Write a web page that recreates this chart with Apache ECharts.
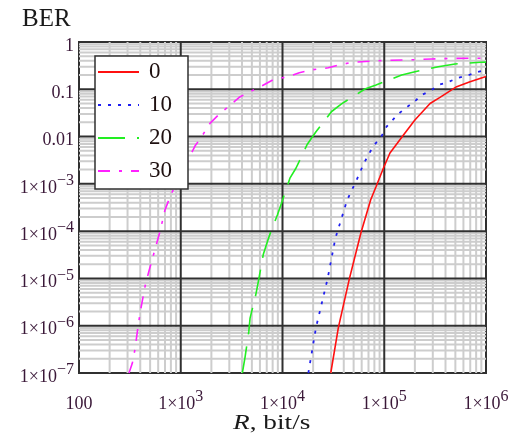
<!DOCTYPE html>
<html>
<head>
<meta charset="utf-8">
<script src="https://cdn.jsdelivr.net/npm/echarts@6/dist/echarts.min.js"></script>
<style>html,body{margin:0;padding:0;background:#fff}#c{width:524px;height:444px}</style>
</head>
<body>
<div id="c"></div>
<script>
// ---- data ----
const seriesNames = ['0', '10', '20', '30'];
const r0 = [29800, 35400, 45400, 59200, 73600, 83000, 98000, 113800, 153800, 200000, 282000, 353000, 515000, 697000, 1000000];
const ber0 = [1e-7, 9.1e-7, 9.8e-6, 9.5e-5, 4.6e-4, 8.7e-4, 2.14e-3, 4.5e-3, 0.0107, 0.0224, 0.050, 0.0676, 0.1135, 0.145, 0.187];
const r10 = [17950, 21330, 27730, 33110, 38020, 43250, 52720, 63100, 78000, 92300, 105400, 137400, 163700, 195900, 233300, 285100, 353200, 426600, 524800, 696600, 809000, 1000000];
const ber10 = [1e-7, 9.1e-7, 9.8e-6, 7.1e-5, 1.86e-4, 4.6e-4, 1.12e-3, 2.72e-3, 6.3e-3, 9.5e-3, 0.0162, 0.0302, 0.0407, 0.0537, 0.0759, 0.0933, 0.127, 0.1426, 0.173, 0.204, 0.229, 0.26];
const r20 = [4030, 4290, 4660, 4800, 5460, 5830, 6470, 7100, 7830, 8910, 9770, 11830, 13550, 17540, 21330, 30400, 38020, 64600, 83000, 148300, 200400, 339600, 495500, 887000, 1000000];
const ber20 = [1e-7, 2.2e-7, 7.4e-7, 1.45e-6, 4.5e-6, 9.3e-6, 3.2e-5, 6.0e-5, 1.1e-4, 2.2e-4, 3.9e-4, 1.32e-3, 2.14e-3, 6.9e-3, 0.0126, 0.0339, 0.049, 0.1014, 0.123, 0.2, 0.235, 0.30, 0.343, 0.372, 0.375];
const r30 = [310, 334, 355, 383, 404, 452, 488, 568, 625, 700, 802, 1380, 1607, 1936, 2432, 2931, 3758, 4786, 6237, 8241, 11400, 14620, 20090, 28180, 36140, 47860, 78160, 118300, 185800, 292400, 459200, 722800, 1000000];
const ber30 = [1e-7, 1.6e-7, 3.2e-7, 1.07e-6, 2.2e-6, 7.9e-6, 1.45e-5, 4.7e-5, 9.8e-5, 2.8e-4, 6.0e-4, 6.3e-3, 0.01, 0.019, 0.031, 0.0427, 0.0676, 0.089, 0.1175, 0.1626, 0.185, 0.224, 0.26, 0.285, 0.328, 0.37, 0.396, 0.412, 0.42, 0.438, 0.45, 0.452, 0.455];
const xTicks = [100, 1e3, 1e4, 1e5, 1e6];
const yTicks = [1e-7, 1e-6, 1e-5, 1e-4, 1e-3, 0.01, 0.1, 1];

const pairs = (xs, ys) => xs.map((x, i) => [x, ys[i]]);
const X0 = xTicks[0], X1 = xTicks[xTicks.length - 1];
const Y0 = yTicks[0], Y1 = yTicks[yTicks.length - 1];

// grid lines: [x, y, direction(0 = vertical, 1 = horizontal), major(0/1)]
const gridLines = [];
for (let i = 0; i < xTicks.length - 1; i++) for (let m = 2; m <= 9; m++) gridLines.push([xTicks[i] * m, Y0, 0, 0]);
for (let i = 0; i < yTicks.length - 1; i++) for (let m = 2; m <= 9; m++) gridLines.push([X0, yTicks[i] * m, 1, 0]);
xTicks.slice(1, -1).forEach(v => gridLines.push([v, Y0, 0, 1]));
yTicks.slice(1, -1).forEach(v => gridLines.push([X0, v, 1, 1]));

const FONT = 'Liberation Serif';
const LABEL_COLOR = '#3a1838';
const rich = {
  b: { fontSize: 18, lineHeight: 30, fontFamily: FONT, color: LABEL_COLOR },
  s: { fontSize: 16, lineHeight: 16, padding: [0, 0, 14, 0], fontFamily: FONT, color: LABEL_COLOR }
};

const chart = echarts.init(document.getElementById('c'), null, { renderer: 'canvas' });
chart.setOption({
  animation: false,
  backgroundColor: '#fff',
  grid: { left: 79, right: 38, top: 42, bottom: 71, show: true, borderColor: '#303030', borderWidth: 2, backgroundColor: 'transparent', outerBoundsMode: 'none' },
  xAxis: {
    type: 'log', logBase: 10, min: X0, max: X1, splitNumber: 4,
    axisLine: { show: false }, axisTick: { show: false }, splitLine: { show: false }, minorSplitLine: { show: false },
    axisLabel: {
      interval: 0, margin: 16, showMinLabel: true, showMaxLabel: true, rich: rich,
      formatter: v => { const e = Math.round(Math.log10(v)); return e === 2 ? '{b|100}' : '{b|1×10}{s|' + e + '}'; }
    }
  },
  yAxis: {
    type: 'log', logBase: 10, min: Y0, max: Y1, splitNumber: 7,
    axisLine: { show: false }, axisTick: { show: false }, splitLine: { show: false }, minorSplitLine: { show: false },
    axisLabel: {
      interval: 0, margin: 5, showMinLabel: true, showMaxLabel: true, rich: rich, padding: [8, 0, 0, 0],
      formatter: v => {
        const e = Math.round(Math.log10(v));
        if (e === 0) return '{b|1}';
        if (e === -1) return '{b|0.1}';
        if (e === -2) return '{b|0.01}';
        return '{b|1×10}{s|−' + (-e) + '}';
      }
    }
  },
  legend: {
    data: seriesNames, orient: 'vertical', left: 95, top: 56,
    padding: [4, 16, 6, 2], itemWidth: 41, itemHeight: 14, itemGap: 9,
    backgroundColor: '#fff', borderColor: '#303030', borderWidth: 1.5, borderRadius: 0,
    itemStyle: { opacity: 0, color: 'rgba(0,0,0,0)', borderWidth: 0 },
    textStyle: { fontFamily: FONT, fontSize: 23, lineHeight: 24, color: '#1e1010', padding: [0, 0, 0, 5] },
    selectedMode: false
  },
  graphic: [
    { type: 'text', x: 22, y: 7, style: { text: 'BER', fontFamily: FONT, fontSize: 25, fill: '#1a1a1a', verticalAlign: 'top' } },
    { type: 'text', x: 233, y: 413, scaleX: 1.3, style: { text: '{i|R}, bit/s', fontFamily: FONT, fontSize: 21, fill: '#1a1a1a', verticalAlign: 'top',
        rich: { i: { fontStyle: 'italic', fontFamily: FONT, fontSize: 21, fill: '#1a1a1a' } } } }
  ],
  series: [
    { name: 'grid', type: 'custom', data: gridLines, z: 1, silent: true, clip: false,
      renderItem: (params, api) => {
        const v = api.value(2) === 0 ? api.value(0) : api.value(1);
        const vertical = api.value(2) === 0;
        const p1 = vertical ? api.coord([v, Y0]) : api.coord([X0, v]);
        const p2 = vertical ? api.coord([v, Y1]) : api.coord([X1, v]);
        const major = api.value(3) === 1;
        return { type: 'line', shape: { x1: p1[0], y1: p1[1], x2: p2[0], y2: p2[1] },
          style: { stroke: major ? '#303030' : '#cdcdcd', lineWidth: 2 } };
      } },
    { name: '0', type: 'line', data: pairs(r0, ber0), symbol: 'none', z: 3,
      lineStyle: { color: '#ff1010', width: 1.6, type: 'solid' }, itemStyle: { color: '#ff1010' } },
    { name: '10', type: 'line', data: pairs(r10, ber10), symbol: 'none', z: 3,
      lineStyle: { color: '#2020f0', width: 1.8, type: [3, 7] }, itemStyle: { color: '#2020f0' } },
    { name: '20', type: 'line', data: pairs(r20, ber20), symbol: 'none', z: 3,
      lineStyle: { color: '#22ee22', width: 1.6, type: [27, 12] }, itemStyle: { color: '#22ee22' } },
    { name: '30', type: 'line', data: pairs(r30, ber30), symbol: 'none', z: 3,
      lineStyle: { color: '#ff20ff', width: 1.6, type: [12, 9, 3, 9] }, itemStyle: { color: '#ff20ff' } }
  ]
});
</script>
</body>
</html>
